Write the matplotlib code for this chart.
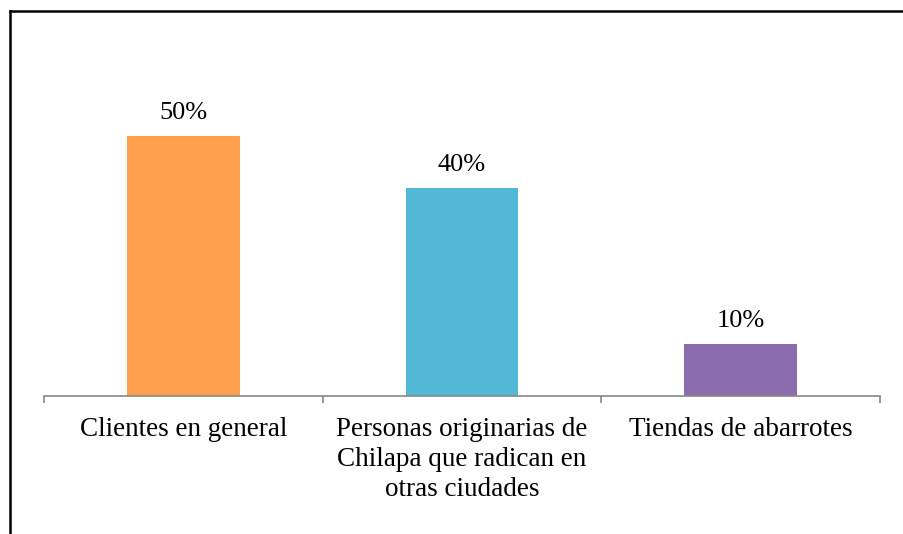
import matplotlib.pyplot as plt
from matplotlib.lines import Line2D

categories = ['Clientes en general',
              'Personas originarias de\nChilapa que radican en\notras ciudades',
              'Tiendas de abarrotes']
values = [0.50, 0.40, 0.10]
value_labels = ['50%', '40%', '10%']
colors = ['#FFA04F', '#53B8D6', '#8B6CAD']

plt.rcParams['font.family'] = ['Liberation Serif', 'DejaVu Serif']

fig = plt.figure(figsize=(9.04, 5.34), dpi=100)
ax = fig.add_axes([44/904, 1-396/534, (880-44)/904, 312/534])

x = range(len(values))
bars = ax.bar(x, values, width=0.405, color=colors)
for b, lab in zip(bars, value_labels):
    ax.annotate(lab, (b.get_x() + b.get_width()/2, b.get_height()),
                xytext=(0, 12), textcoords='offset points',
                ha='center', va='baseline', fontsize=19)

ax.set_xlim(-0.5, 2.5)
ax.set_ylim(0, 0.6)
ax.set_yticks([])
ax.set_xticks(list(x))
ax.set_xticklabels(categories, fontsize=19.5, linespacing=1.28)
ax.tick_params(axis='x', which='major', length=0, pad=15)
ax.set_xticks([-0.5, 0.5, 1.5, 2.5], minor=True)
ax.tick_params(axis='x', which='minor', length=5, width=1.2, color='#878787')

for s in ('top', 'right', 'left'):
    ax.spines[s].set_visible(False)
ax.spines['bottom'].set_color('#878787')
ax.spines['bottom'].set_linewidth(1.2)

# border of the chart area (only left and top visible)
fig.add_artist(Line2D([9.5/904, 9.5/904], [0, 1-11/534], color='black', lw=1.8,
                      transform=fig.transFigure))
fig.add_artist(Line2D([9.5/904, 1], [1-11/534, 1-11/534], color='black', lw=1.8,
                      transform=fig.transFigure))

fig.savefig('out.png', dpi=100)
